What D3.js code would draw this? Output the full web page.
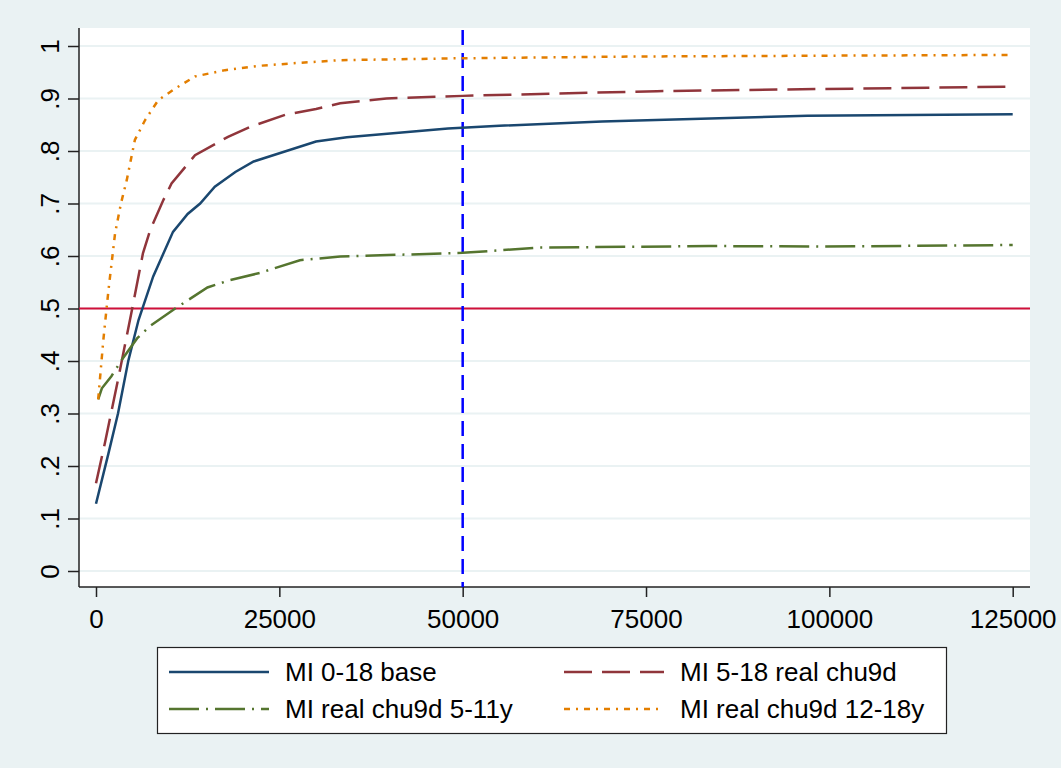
<!DOCTYPE html>
<html>
<head>
<meta charset="utf-8">
<script src="https://cdn.jsdelivr.net/npm/d3@7"></script>
<style>
  html, body { margin: 0; padding: 0; background: #eaf2f3; }
  svg { display: block; font-family: 'Liberation Sans', Arial, sans-serif; }
</style>
</head>
<body>
<svg id="chart" width="1061" height="768"></svg>
<script>
// values: [x, share]
const base018 = [[0,0.128],[1700,0.224],[3000,0.30],[4400,0.40],[5800,0.478],[7800,0.561],[10500,0.646],
  [12500,0.68],[14200,0.70],[16200,0.732],[19000,0.76],[21500,0.780],[30000,0.818],[34200,0.826],[48000,0.843],[55000,0.848],
  [69000,0.856],[97000,0.867],[125000,0.870]];
const real518 = [[0,0.167],[1200,0.243],[3000,0.364],[4900,0.497],[6400,0.605],[7400,0.65],[9200,0.707],
  [10300,0.738],[13500,0.792],[18000,0.827],[21000,0.846],[25800,0.869],[30000,0.88],[33300,0.891],
  [39600,0.90],[50000,0.905],[76500,0.914],[98700,0.918],[125000,0.9225]];
const real511 = [[300,0.327],[800,0.348],[2100,0.371],[3500,0.402],[5600,0.443],[7400,0.467],[10800,0.50],
  [15200,0.540],[18000,0.553],[22400,0.568],[27800,0.592],[33300,0.599],[50000,0.606],[60400,0.616],
  [83600,0.619],[98700,0.618],[125000,0.621]];
const real1218 = [[300,0.327],[1000,0.44],[1700,0.535],[2600,0.643],[3400,0.70],[4200,0.745],[5300,0.821],
  [6700,0.859],[8500,0.897],[10800,0.919],[13500,0.942],[17600,0.954],[22000,0.962],[27800,0.968],
  [33300,0.973],[49000,0.9765],[73500,0.98],[98700,0.9815],[125000,0.983]];

const seriesNames = ['MI 0-18 base', 'MI 5-18 real chu9d', 'MI real chu9d 5-11y', 'MI real chu9d 12-18y'];
const xTicks = [0, 25000, 50000, 75000, 100000, 125000];
const yTicks = [0, 0.1, 0.2, 0.3, 0.4, 0.5, 0.6, 0.7, 0.8, 0.9, 1];
const yTickLabels = ['0', '.1', '.2', '.3', '.4', '.5', '.6', '.7', '.8', '.9', '1'];
const refY = 0.5;
const refX = 50000;

const series = [
  { name: seriesNames[0], values: base018, color: '#1a476f', dash: null },
  { name: seriesNames[1], values: real518, color: '#90353b', dash: '28,10' },
  { name: seriesNames[2], values: real511, color: '#55752f', dash: '30,7,2,7' },
  { name: seriesNames[3], values: real1218, color: '#e37e00', dash: '6,6,2,6' }
];

const svg = d3.select('#chart');
const plot = { left: 79, right: 1030, top: 28, bottom: 587 };

const x = d3.scaleLinear().domain([0, 125000]).range([96, 1012.7]);
const y = d3.scaleLinear().domain([0, 1]).range([571, 46]);

// backgrounds
svg.append('rect').attr('width', 1061).attr('height', 768).attr('fill', '#eaf2f3');
svg.append('rect')
  .attr('x', plot.left).attr('y', plot.top)
  .attr('width', plot.right - plot.left).attr('height', plot.bottom - plot.top)
  .attr('fill', '#fff');

// grid
svg.append('g').selectAll('line')
  .data(yTicks)
  .enter().append('line')
  .attr('x1', plot.left).attr('x2', plot.right)
  .attr('y1', d => y(d)).attr('y2', d => y(d))
  .attr('stroke', '#eaf2f3').attr('stroke-width', 2);

// y axis
const yAxis = svg.append('g')
  .attr('transform', `translate(${plot.left},0)`)
  .call(d3.axisLeft(y).tickValues(yTicks).tickSize(11).tickFormat((d, i) => yTickLabels[i]));
yAxis.select('.domain').attr('d', `M0,${plot.top}V${plot.bottom}`);
yAxis.selectAll('text')
  .attr('x', null).attr('dy', null)
  .attr('transform', 'translate(-20,0) rotate(-90)')
  .attr('text-anchor', 'middle')
  .style('font-size', '26px');

// x axis
const xAxis = svg.append('g')
  .attr('transform', `translate(0,${plot.bottom})`)
  .call(d3.axisBottom(x).tickValues(xTicks).tickSize(10).tickFormat(d3.format('d')));
xAxis.select('.domain').attr('d', `M${plot.left},0H${plot.right}`);
xAxis.selectAll('text').attr('y', 41).attr('dy', null).style('font-size', '26px');

svg.selectAll('.domain, .tick line').attr('stroke', '#222').attr('stroke-width', 1.5);
svg.selectAll('.tick text').attr('fill', '#000');

// reference lines
svg.append('line')
  .attr('x1', plot.left).attr('x2', plot.right)
  .attr('y1', y(refY)).attr('y2', y(refY))
  .attr('stroke', '#d0103a').attr('stroke-width', 2);

svg.append('line')
  .attr('x1', x(refX)).attr('x2', x(refX))
  .attr('y1', plot.top + 2).attr('y2', plot.bottom)
  .attr('stroke', '#0000ff').attr('stroke-width', 2.5)
  .attr('stroke-dasharray', '15,8');

// series lines
const line = d3.line().x(d => x(d[0])).y(d => y(d[1]));
svg.append('g').selectAll('path')
  .data(series)
  .enter().append('path')
  .attr('d', d => line(d.values))
  .attr('fill', 'none')
  .attr('stroke', d => d.color)
  .attr('stroke-width', 2.5)
  .attr('stroke-dasharray', d => d.dash);

// legend
const legend = svg.append('g');
legend.append('rect')
  .attr('x', 157.5).attr('y', 647.5).attr('width', 789).attr('height', 86)
  .attr('fill', '#fff').attr('stroke', '#222').attr('stroke-width', 1.2);

const items = legend.selectAll('.item')
  .data(series)
  .enter().append('g')
  .attr('class', 'item')
  .attr('transform', (d, i) => `translate(${i % 2 ? 564 : 169},${i < 2 ? 672 : 709})`);
items.append('line')
  .attr('x1', 0).attr('x2', 100)
  .attr('stroke', d => d.color).attr('stroke-width', 2.5)
  .attr('stroke-dasharray', d => d.dash);
items.append('text')
  .attr('x', 116).attr('y', 9)
  .style('font-size', '26px')
  .text(d => d.name);
</script>
</body>
</html>
